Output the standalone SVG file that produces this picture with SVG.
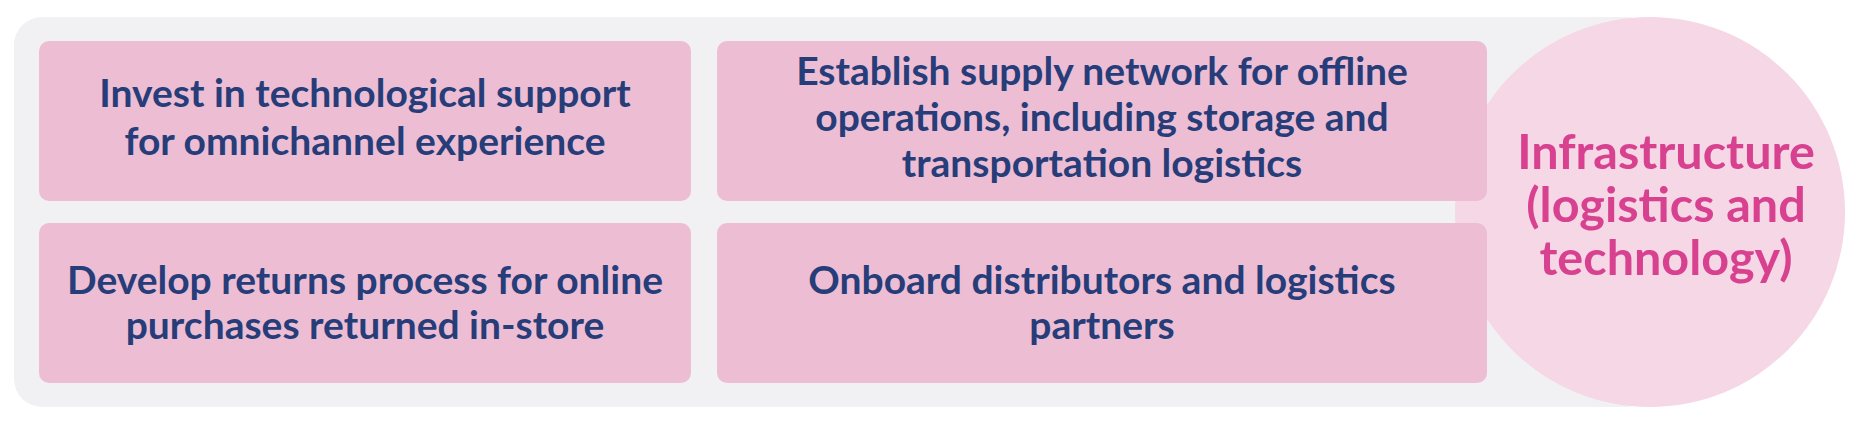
<svg xmlns="http://www.w3.org/2000/svg" width="1866" height="428" viewBox="0 0 1866 428">
<style>
.box{fill:#edbdd4}
.t{font-family:Lato,"Liberation Sans",sans-serif;font-weight:700;font-size:39px;fill:#263d79;text-anchor:middle}
.c{font-family:Lato,"Liberation Sans",sans-serif;font-weight:700;font-size:48.5px;fill:#d8418f;text-anchor:middle}
</style>
<rect width="1866" height="428" fill="#ffffff"/>
<rect id="panel" x="14" y="17" width="1640" height="390" rx="28" fill="#f1f0f2"/>
<g id="hub">
<circle cx="1650" cy="212" r="195" fill="#f6d7e5"/>
<text class="c" x="1666" y="169">Infrastructure</text>
<text class="c" x="1666" y="222">(logistics and</text>
<text class="c" x="1666" y="275">technology)</text>
</g>
<g id="n1">
<rect class="box" x="39" y="41" width="652" height="160" rx="10"/>
<text class="t" x="365" y="107">Invest in technological support</text>
<text class="t" x="365" y="155">for omnichannel experience</text>
</g>
<g id="n2">
<rect class="box" x="717" y="41" width="770" height="160" rx="10"/>
<text class="t" x="1102" y="85">Establish supply network for offline</text>
<text class="t" x="1102" y="131">operations, including storage and</text>
<text class="t" x="1102" y="177">transportation logistics</text>
</g>
<g id="n3">
<rect class="box" x="39" y="223" width="652" height="160" rx="10"/>
<text class="t" x="365" y="294">Develop returns process for online</text>
<text class="t" x="365" y="339">purchases returned in-store</text>
</g>
<g id="n4">
<rect class="box" x="717" y="223" width="770" height="160" rx="10"/>
<text class="t" x="1102" y="294">Onboard distributors and logistics</text>
<text class="t" x="1102" y="339">partners</text>
</g>
<g id="connectors"></g>
</svg>
